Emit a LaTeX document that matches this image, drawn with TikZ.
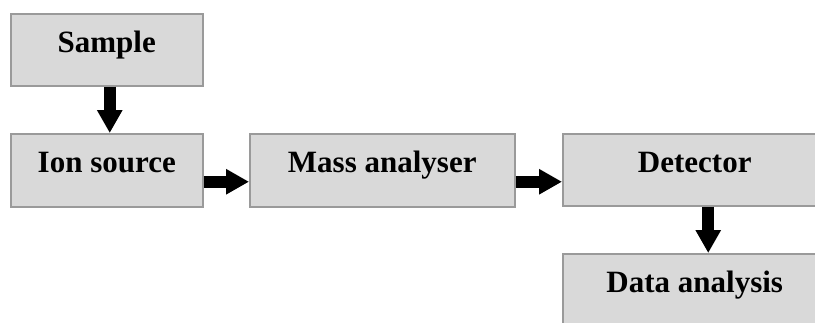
\documentclass[tikz,border=0pt]{standalone}
\usepackage{fontspec}
\setmainfont{Liberation Serif}
\usetikzlibrary{arrows.meta}
\definecolor{boxfill}{HTML}{D9D9D9}
\definecolor{boxline}{HTML}{9A9A9A}
\begin{document}
\begin{tikzpicture}[%
          base/.style={rectangle, minimum width=192pt, minimum height=73pt, draw=boxline,
            line width=1.5pt, fill=boxfill, anchor=north west, inner sep=0pt,
            font=\fontsize{31}{36}\selectfont\bfseries, text height=21pt, text depth=16pt},
          wide/.style={base, minimum width=265pt},
          flow/.style={line width=12pt, -{Triangle[length=23pt, width=24pt]}}]
          \useasboundingbox (0,0) rectangle (815pt,-322pt);
          \clip (0,0) rectangle (815pt,-322pt);
          % \draw [help lines] grid(3,2);
          \node[base, minimum height=72pt] (sample) at (10pt,-13pt) {Sample};
          \node[base] (ionsrc) at (10pt,-133pt) {Ion source};
          \node[wide] (massan) at (249pt,-133pt) {Mass analyser};
          \node[wide, minimum width=264pt, minimum height=72pt] (detect) at (562pt,-133pt) {Detector};
          \node[wide, minimum width=264pt] (dataan) at (562pt,-253pt) {Data analysis};
          \draw[flow] ([xshift=3pt]sample.south) -- ([xshift=3pt]ionsrc.north);
          \draw[flow] ([yshift=-11.5pt]ionsrc.east) -- ([yshift=-11.5pt]massan.west);
          \draw[flow] ([yshift=-11.5pt]massan.east) -- ([yshift=-12pt]detect.west);
          \draw[flow] ([xshift=13.5pt]detect.south) -- ([xshift=13.5pt]dataan.north);
        \end{tikzpicture}
\end{document}
